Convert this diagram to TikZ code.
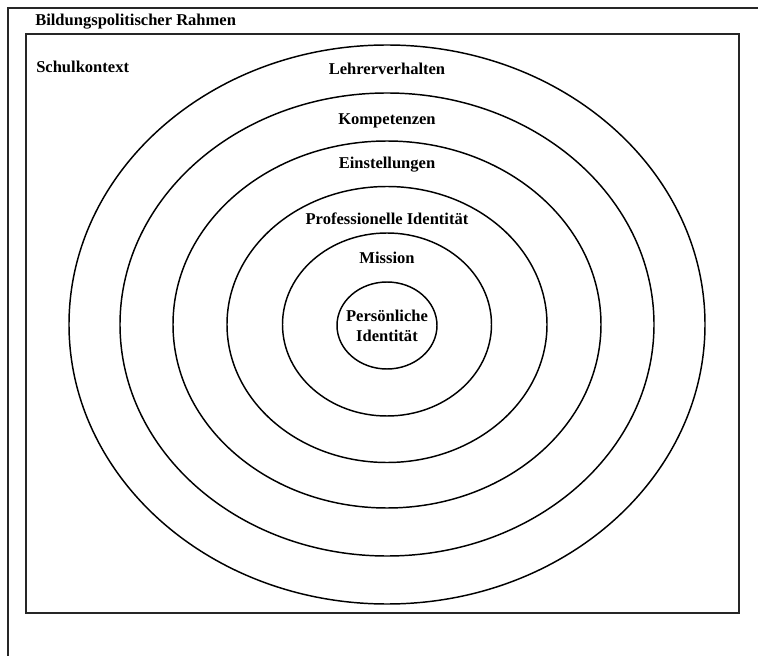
\documentclass[tikz,border=0pt]{standalone}
\usepackage{fontspec}
\setmainfont{Liberation Serif}
\usetikzlibrary{shapes.geometric}

\begin{document}
\begin{tikzpicture}[x=0.75pt,y=-0.75pt,
    rahmen/.style={draw=black!85, line width=1.5pt, rectangle, inner sep=0pt},
    ring/.style={draw, ellipse, line width=1.1pt, inner sep=0pt},
    schrift/.style={font=\fontsize{12.4}{15}\selectfont\bfseries, inner sep=0pt, anchor=base}]
  \useasboundingbox (0,0) rectangle (758,656);
  \clip (0,0) rectangle (758,656);
  % frames
  \node[rahmen, minimum width=586.5pt, minimum height=511.5pt] (politik) at (399,349) {};
  \node[rahmen, minimum width=534.75pt, minimum height=434.25pt] (schule) at (382.5,323.5) {};
  \node[schrift, anchor=base west] (tpolitik) at ([xshift=21pt,yshift=-13.9pt]politik.north west) {Bildungspolitischer Rahmen};
  \node[schrift, anchor=base west] (tschule) at ([xshift=8.25pt,yshift=-30pt]schule.north west) {Schulkontext};
  % rings
  \node[ring, minimum width=477pt, minimum height=419.25pt] (e1) at (387,324.5) {};
  \node[ring, minimum width=400.5pt, minimum height=347.25pt] (e2) at (387,324.5) {};
  \node[ring, minimum width=321pt, minimum height=275.25pt] (e3) at (387,324.5) {};
  \node[ring, minimum width=240pt, minimum height=207pt] (e4) at (387,324.5) {};
  \node[ring, minimum width=156.75pt, minimum height=137.25pt] (e5) at (387,324.5) {};
  \node[ring, minimum width=75pt, minimum height=65.25pt] (e6) at (387,325.5) {};
  \node[schrift] (t1) at ([yshift=-22.5pt]e1.north) {Lehrerverhalten};
  \node[schrift] (t2) at ([yshift=-24pt]e2.north) {Kompetenzen};
  \node[schrift] (t3) at ([yshift=-21pt]e3.north) {Einstellungen};
  \node[schrift] (t4) at ([yshift=-29.25pt]e4.north) {Professionelle Identität};
  \node[schrift] (t5) at ([yshift=-23.25pt]e5.north) {Mission};
  \node[schrift, anchor=center, align=center] (t6) at (e6) {Persönliche\\Identität};
\end{tikzpicture}
\end{document}
